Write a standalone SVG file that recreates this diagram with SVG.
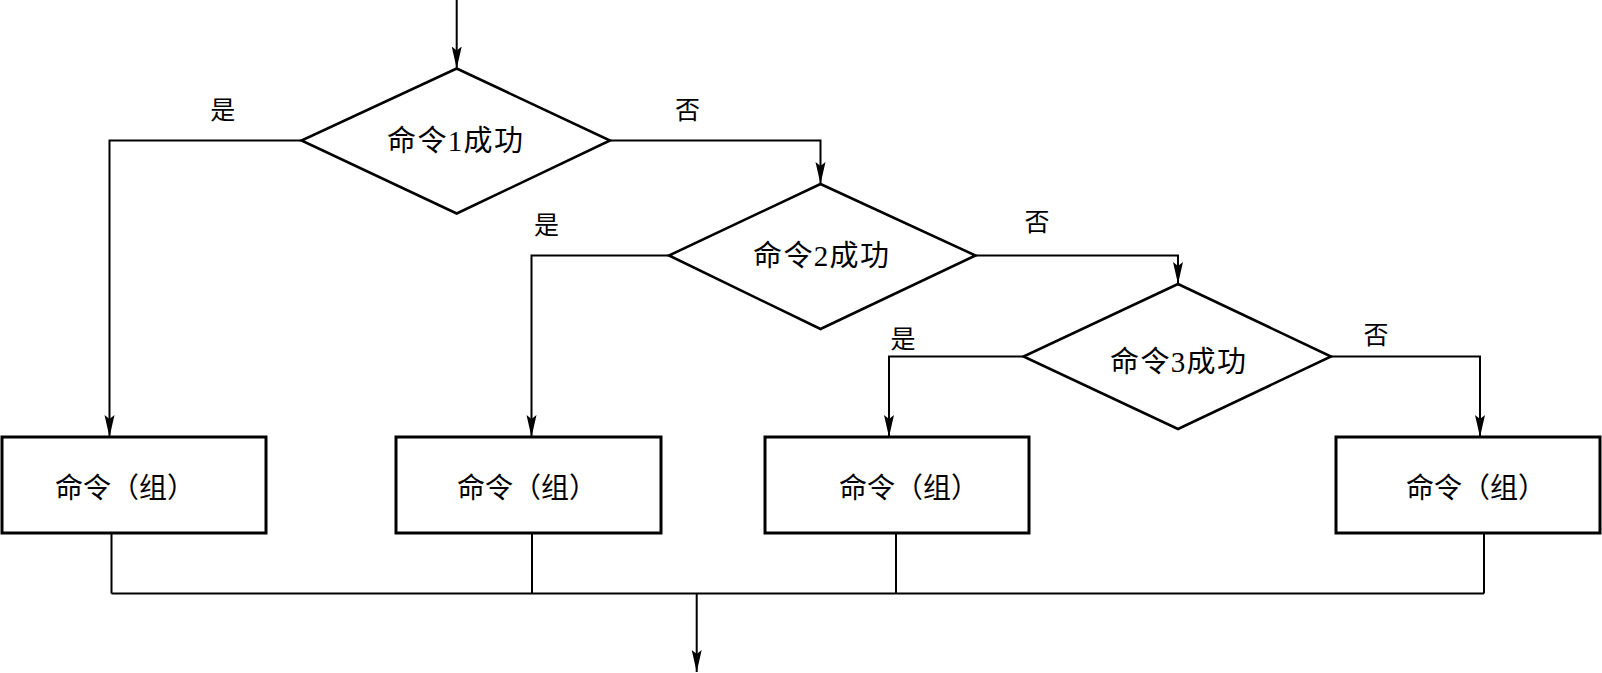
<svg xmlns="http://www.w3.org/2000/svg" width="1602" height="673" viewBox="0 0 1602 673">
<style>
.shape{fill:#fff;stroke:#000;stroke-width:2.6}
.box{fill:#fff;stroke:#000;stroke-width:3}
.line{fill:none;stroke:#000;stroke-width:2}
text{font-family:"Liberation Serif","Noto Sans CJK SC",serif;fill:#000;text-anchor:middle;dominant-baseline:central}
.t{font-size:28px}
.d{font-size:29px}
.l{font-size:25px}
</style>
<defs>
<marker id="arr" markerUnits="userSpaceOnUse" markerWidth="24" markerHeight="12" refX="22" refY="6" orient="auto">
<path d="M0,1 L22,6 L0,11 L4,6 Z" fill="#000"/>
</marker>
</defs>
<rect width="1602" height="673" fill="#fff"/>
<g id="connectors">
<path class="line" d="M456.7,0 V68.5" marker-end="url(#arr)"/>
<path class="line" d="M301.5,140.5 H109.5 V437" marker-end="url(#arr)"/>
<path class="line" d="M610,140.5 H820.5 V184" marker-end="url(#arr)"/>
<path class="line" d="M669,255.5 H531.5 V437" marker-end="url(#arr)"/>
<path class="line" d="M975.5,255.5 H1178 V284" marker-end="url(#arr)"/>
<path class="line" d="M1023.5,356.5 H889 V437" marker-end="url(#arr)"/>
<path class="line" d="M1331,356.5 H1480 V437" marker-end="url(#arr)"/>
<path class="line" d="M111.5,533 V593.5 M532,533 V593.5 M896,533 V593.5 M1484,533 V593.5 M111.5,593.5 H1484"/>
<path class="line" d="M696.7,593.5 V672" marker-end="url(#arr)"/>
<text class="l" x="222.7" y="110">是</text>
<text class="l" x="687.6" y="110">否</text>
<text class="l" x="546.6" y="225">是</text>
<text class="l" x="1037" y="222">否</text>
<text class="l" x="903" y="339">是</text>
<text class="l" x="1376" y="335">否</text>
</g>
<g id="d1">
<polygon class="shape" points="456.7,68.5 610,140.5 456.7,213.5 301.5,140.5"/>
<text class="d" x="455" y="141" textLength="136" lengthAdjust="spacing">命令1成功</text>
</g>
<g id="d2">
<polygon class="shape" points="820.5,184 975.5,255.5 820.5,329 669,255.5"/>
<text class="d" x="821" y="256" textLength="136" lengthAdjust="spacing">命令2成功</text>
</g>
<g id="d3">
<polygon class="shape" points="1178,284 1331,356.5 1178,429 1023.5,356.5"/>
<text class="d" x="1178" y="362" textLength="136" lengthAdjust="spacing">命令3成功</text>
</g>
<g id="b1">
<rect class="box" x="2" y="437" width="264" height="96"/>
<text class="t" x="125" y="488">命令（组）</text>
</g>
<g id="b2">
<rect class="box" x="396" y="437" width="265" height="96"/>
<text class="t" x="527" y="488">命令（组）</text>
</g>
<g id="b3">
<rect class="box" x="765" y="437" width="264" height="96"/>
<text class="t" x="909" y="488">命令（组）</text>
</g>
<g id="b4">
<rect class="box" x="1336" y="437" width="264" height="96"/>
<text class="t" x="1476" y="488">命令（组）</text>
</g>
</svg>
